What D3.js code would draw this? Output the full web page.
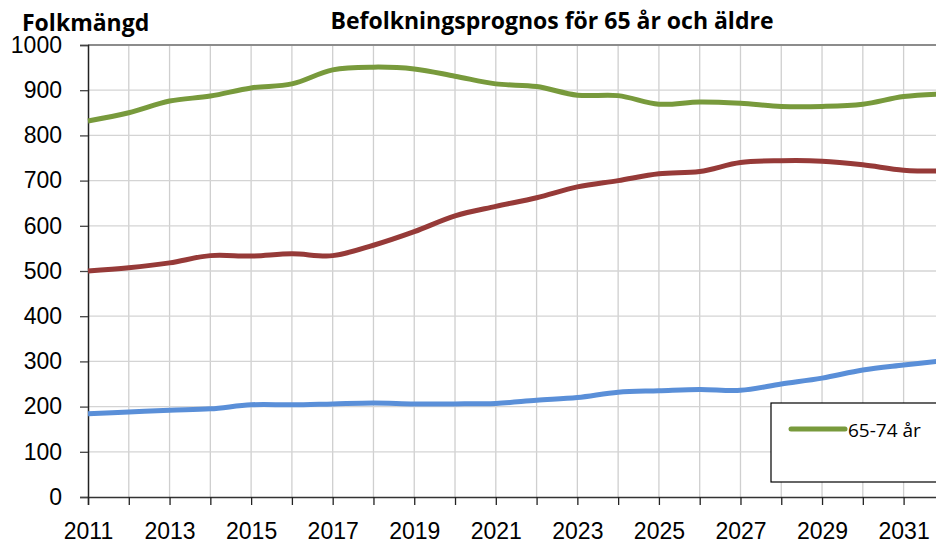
<!DOCTYPE html>
<html>
<head>
<meta charset="utf-8">
<script src="https://cdn.jsdelivr.net/npm/d3@7"></script>
<style>
    body { margin: 0; background: #fff; }
    svg { display: block; font-family: "Open Sans", Lato, sans-serif; }
</style>
</head>
<body>
<svg id="chart" width="936" height="543"></svg>
<script>
// years on the x axis
var years = d3.range(2011, 2033);
var yTicks = [0, 100, 200, 300, 400, 500, 600, 700, 800, 900, 1000];
var xLabelYears = [2011, 2013, 2015, 2017, 2019, 2021, 2023, 2025, 2027, 2029, 2031];

// series values
var age6574 = [832, 850, 876, 887, 905, 914, 945, 951, 947, 931, 914, 908, 889, 888, 869, 874, 871, 864, 864, 869, 886, 892];
var age7584 = [500, 507, 518, 534, 533, 538, 534, 557, 587, 622, 643, 662, 686, 700, 715, 720, 740, 744, 743, 735, 723, 721];
var age85 = [184, 188, 192, 195, 204, 204, 206, 208, 206, 206, 207, 214, 220, 232, 235, 238, 236, 250, 263, 281, 292, 302];

var seriesNames = ["65-74 år", "75-84 år", "85 år och äldre"];
var seriesColors = ["#789a3c", "#963a38", "#5a8fd8"];
var seriesValues = [age6574, age7584, age85];

var svg = d3.select("#chart");

var margin = { top: 45, left: 88, bottom: 46 },
    plotH = 543 - margin.top - margin.bottom;

var x = d3.scaleLinear()
    .domain([2011, 2032])
    .range([margin.left, margin.left + 21 * 40.78]);

var y = d3.scaleLinear()
    .domain([0, 1000])
    .range([margin.top + plotH, margin.top]);

// gridlines
svg.append("g")
    .selectAll("line.vg")
    .data(years.slice(1))
    .enter().append("line")
    .attr("x1", function (d) { return x(d); })
    .attr("x2", function (d) { return x(d); })
    .attr("y1", y(0))
    .attr("y2", y(1000))
    .attr("stroke", "#cfcfcf")
    .attr("stroke-width", 1.3);

svg.append("g")
    .selectAll("line.hg")
    .data(yTicks.slice(1, -1))
    .enter().append("line")
    .attr("x1", x(2011))
    .attr("x2", 936)
    .attr("y1", function (d) { return y(d); })
    .attr("y2", function (d) { return y(d); })
    .attr("stroke", "#d4d4d4")
    .attr("stroke-width", 1.3);

// plot area top border
svg.append("line")
    .attr("x1", x(2011)).attr("x2", 936)
    .attr("y1", y(1000)).attr("y2", y(1000))
    .attr("stroke", "#8c8c8c")
    .attr("stroke-width", 2);

// y axis
var yAxis = svg.append("g")
    .attr("transform", "translate(" + x(2011) + ",0)")
    .call(d3.axisLeft(y).tickValues(yTicks).tickSize(8).tickPadding(18).tickFormat(d3.format("d")));
yAxis.select(".domain").attr("stroke", "#222").attr("stroke-width", 1.5);
yAxis.selectAll(".tick line").attr("stroke", "#444").attr("stroke-width", 1.3);
yAxis.selectAll("text").attr("font-size", 23).attr("fill", "#000").attr("font-family", "inherit");

// x axis
var xAxis = svg.append("g")
    .attr("transform", "translate(0," + y(0) + ")")
    .call(d3.axisBottom(x).tickValues(years).tickSize(8).tickPadding(17.5)
        .tickFormat(function (d) { return xLabelYears.indexOf(d) >= 0 ? d : ""; }));
xAxis.select(".domain").attr("stroke", "#333").attr("stroke-width", 1.5);
xAxis.selectAll(".tick line").attr("stroke", "#222").attr("stroke-width", 1.3);
xAxis.selectAll("text").attr("font-size", 23).attr("fill", "#000").attr("font-family", "inherit");

// lines
var line = d3.line()
    .x(function (d, i) { return x(years[i]); })
    .y(function (d) { return y(d); })
    .curve(d3.curveCatmullRom.alpha(0.5));

svg.append("g")
    .selectAll("path")
    .data(seriesValues)
    .enter().append("path")
    .attr("d", line)
    .attr("fill", "none")
    .attr("stroke", function (d, i) { return seriesColors[i]; })
    .attr("stroke-width", 5)
    .attr("stroke-linejoin", "round");

// legend
var legend = svg.append("g").attr("transform", "translate(771,403)");
legend.append("rect")
    .attr("width", 180).attr("height", 79)
    .attr("fill", "#fff")
    .attr("stroke", "#000")
    .attr("stroke-width", 1.2);
legend.append("line")
    .attr("x1", 20).attr("x2", 74)
    .attr("y1", 26).attr("y2", 26)
    .attr("stroke", seriesColors[0])
    .attr("stroke-width", 5)
    .attr("stroke-linecap", "round");
legend.append("text")
    .attr("x", 77).attr("y", 34)
    .attr("font-size", 19)
    .text(seriesNames[0]);

// titles
svg.append("text")
    .attr("x", 22).attr("y", 31)
    .attr("font-size", 23).attr("font-weight", "bold")
    .text("Folkmängd");

svg.append("text")
    .attr("x", 552).attr("y", 29)
    .attr("text-anchor", "middle")
    .attr("font-size", 23).attr("font-weight", "bold")
    .text("Befolkningsprognos för 65 år och äldre");
</script>
</body>
</html>
